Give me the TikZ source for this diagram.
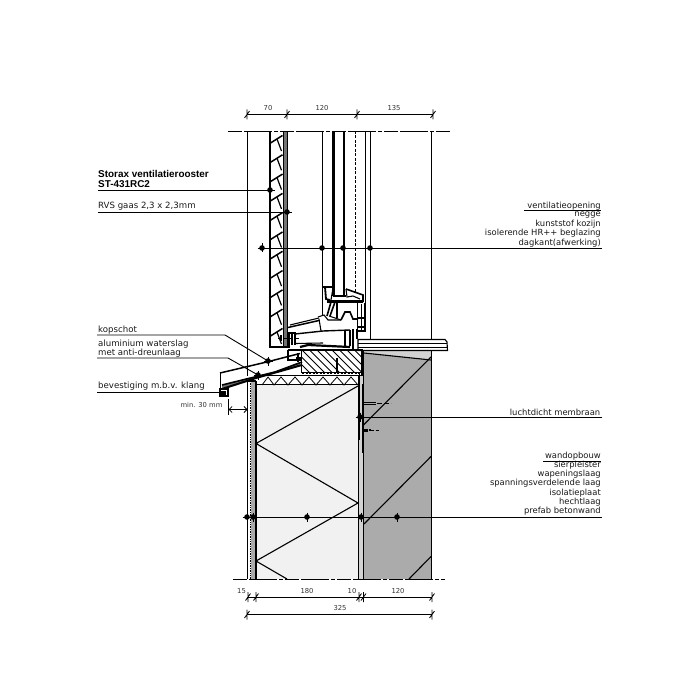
\documentclass[tikz,border=0pt]{standalone}
\usepackage{fontspec}
\setmainfont{DejaVu Sans}
\newfontfamily\boldfam{Liberation Sans}[BoldFont={Liberation Sans Bold}]
\usetikzlibrary{arrows.meta}
\definecolor{concrete}{HTML}{ABABAB}
\definecolor{insul}{HTML}{F1F1F1}
\definecolor{lightband}{HTML}{D2D2D2}
\tikzset{
  thinl/.style={line width=0.7pt,black},
  medl/.style={line width=1.1pt,black},
  thickl/.style={line width=1.6pt,black},
  cutl/.style={line width=0.9pt,black,dash pattern=on 14pt off 2pt on 28pt off 2pt on 4pt off 2pt},
  lead/.style={line width=0.9pt,black},
  lblr/.style={inner sep=0pt,font=\fontsize{8.4}{9.2}\selectfont,text=black!90,anchor=east},
  lbll/.style={inner sep=0pt,font=\fontsize{8.6}{9.2}\selectfont,text=black!90,anchor=west},
  dimt/.style={inner sep=0pt,font=\fontsize{6.8}{7}\selectfont,text=black!80},
  dimline/.style={line width=0.8pt,black}
}
\newcommand{\dotmark}[1]{\fill[black] #1 circle (2.8pt);\draw[line width=0.5pt] #1 ++(-4.5,0) -- ++(9,0) #1 ++(0,-4.5) -- ++(0,9);}
\newcommand{\tickmark}[1]{\draw[dimline] #1 ++(0,-5) -- ++(0,10) #1 ++(-2.5,3.5) -- ++(5,-7);}
\begin{document}
\begin{tikzpicture}[x=1pt,y=-1pt]
\useasboundingbox (0,0) rectangle (700,700);
\fill[white] (0,0) rectangle (700,700);
% fills
\fill[insul] (256,384) rectangle (358,579);
\fill[lightband] (358,376) rectangle (363,579);
\fill[lightband] (363,351) rectangle (431,360);
\fill[concrete] (364,353) -- (431,360) -- (431,579) -- (364,579) -- cycle;
\fill[concrete] (251,381) rectangle (256,579);
% wall lines
\draw[thinl] (247.5,131) -- (247.5,376);
\draw[medl] (247.5,381) -- (247.5,579);
\draw[thinl,densely dotted] (250.5,381) -- (250.5,579);
\draw[medl] (248,381) -- (256,381);
\draw[thickl] (256,381) -- (256,579);
\draw[medl] (358.5,384) -- (358.5,579);
\draw[thickl] (363.5,351) -- (363.5,579);
\draw[medl] (431.5,131) -- (431.5,340);
\draw[thickl] (431.5,351) -- (431.5,579);
\draw[medl] (364,353) -- (431,360);
% insulation and concrete diagonals
\draw[medl] (358,386) -- (256,443.5) -- (358,503) -- (256,561) -- (287,579);
\draw[medl] (431,357) -- (363.5,425);
\draw[medl] (431,456.5) -- (364,524);
\draw[medl] (431,556.5) -- (409,579);
% zigzag strip
\draw[thickl] (256,375.5) -- (362,375.5);
\draw[medl] (256,384.5) -- (359,384.5);
\draw[line width=0.8pt] (262,385) -- (268,377) -- (274,385) -- (281,377) -- (288,385) -- (295,377) -- (302,385) -- (309,377) -- (316,385) -- (323,377) -- (330,385) -- (337,377) -- (344,385) -- (351,377) -- (358,385);
% timber
\filldraw[fill=white,draw=black,line width=1.1pt] (301.5,350) rectangle (361.5,372.5);
\begin{scope}
\clip (302,350.5) rectangle (361,372);
\foreach \hx in {272,279.5,...,362}{\draw[line width=0.8pt] (\hx,350) -- (\hx+23,373);}
\end{scope}
\draw[line width=2pt,black] (337,358) -- (337,372);
\draw[line width=1.6pt,dash pattern=on 2pt off 1.5pt] (302,373.3) -- (361,373.3);
% right side joint
\draw[thickl] (359.5,373) -- (359.5,384);
\draw[medl] (362,349) -- (362,376);
% membrane
\draw[line width=1.8pt] (359,376) -- (359,440);
\draw[line width=1.2pt] (362.5,384) -- (362.5,453);
\draw[line width=1pt] (363,402) -- (376,402) (363,404.5) -- (376,404.5);
\draw[dash pattern=on 5pt off 2pt,line width=0.9pt] (377,403.5) -- (391,403.5);
\draw[line width=3pt] (362,430) -- (368,430);
\draw[line width=1.5pt] (369,430) -- (371,430);
\draw[line width=0.7pt,dash pattern=on 3pt off 1.5pt] (371,430) -- (380,430);
% grille
\draw[line width=2pt] (270,131) -- (270,348);
\draw[line width=1.3pt] (283.3,131) -- (283.3,348) (287.2,131) -- (287.2,348);
\fill[black!55] (284,131) rectangle (286.5,348);
\foreach \yy in {143,162.3,181.6,200.9,220.2,239.5,258.8,278.1,297.4,316.7,336}{
  \draw[line width=1.5pt] (270.5,\yy) -- (282.5,\yy-7.5);
  \draw[line width=1.2pt] (277,\yy-4) -- (281.5,\yy+8);
}
\draw[medl] (270,347) -- (287,347);
% glass
\draw[thinl] (322.5,131) -- (322.5,303);
\draw[line width=2.7pt] (333.5,131) -- (333.5,296);
\draw[line width=2.7pt] (344,131) -- (344,296);
\draw[line width=0.8pt,dash pattern=on 3pt off 1.5pt] (355.5,131) -- (355.5,292);
\draw[thinl] (365.5,131) -- (365.5,331);
\draw[medl] (370.5,131) -- (370.5,340);
% window frame top
\draw[line width=1.8pt] (323,287) -- (333,287);
\draw[line width=1.8pt] (325,287) -- (326,299) -- (330,300);
\draw[medl] (333,288) -- (331,300);
\draw[line width=2.4pt] (333,296) -- (346,296);
\draw[thickl] (346,289) -- (363,295) -- (363,302);
\draw[medl] (346,289) -- (347,297) -- (353,296) -- (360,299);
\draw[line width=2.6pt] (327,301.5) -- (363,301.5);
\draw[medl] (322.5,302) -- (322.5,315);
\draw[thickl] (331,302) -- (327,316);
\draw[thickl] (335,302) -- (330,316) (337,303) -- (337,318);
\draw[medl] (329,316) -- (341,320);
\draw[medl] (318,317) -- (324,315) -- (328,320) -- (341,320);
\draw[thickl] (341,320) -- (345,312) -- (350,312) -- (353,319) -- (358,319);
% right box
\draw[medl] (357.5,303) -- (357.5,331) -- (365,331) -- (365,303);
\draw[thinl] (361,304) -- (361,330);
\draw[line width=2pt] (357,318) -- (365,318) (357,327) -- (365,327);
% sill profile
\draw[medl] (290,325) -- (319,318);
\draw[line width=1.5pt] (288,327.5) -- (319,320.5);
\draw[medl] (319,319) -- (321,331);
\draw[line width=1.4pt] (295,334) -- (323,331) -- (350,330);
\draw[medl] (295,343.5) -- (323,343);
\draw[medl] (350,330) -- (350,346) (345,330) -- (345,348) (353,329) -- (353,349) (357,329) -- (357,339);
\draw[medl] (288,333) -- (295,333) -- (295,345);
\draw[medl] (289,333) -- (289,348) (292,333) -- (292,345);
\draw[line width=0.7pt,dashed] (278,338) -- (302,338);
\draw[medl] (281,335) -- (281,341);
\draw[line width=2.2pt] (300,347) -- (308,345) -- (350,347);
\draw[medl] (288,350) -- (288,360) -- (301,360);
\draw[medl] (288,350) -- (301,350);
\draw[line width=3pt] (296,358) -- (302,358);
\draw[line width=2.6pt] (298,353) -- (298,362);
% stone sill
\draw[medl] (358,339.5) -- (445,339.5) -- (447,342) -- (447.5,350.5) -- (358,350.5) -- cycle;
\draw[thinl] (358,343) -- (447,343);
\draw[thinl] (358,347) -- (447,347);
% waterslag
\draw[line width=1.5pt] (220,373) -- (268,361.7) -- (290,356) -- (300,353.5);
\draw[thinl] (220,373) -- (220,392);
\fill[black!55] (222,385) -- (275,372) -- (300,362) -- (300,366) -- (256,378) -- (222,389) -- cycle;
\draw[thickl] (222,385) -- (275,372) -- (302,362);
\draw[line width=2pt] (222,389) -- (256,378) -- (302,365);
\draw[medl] (220,389) -- (228,389) -- (228,396) -- (220,396) -- cycle;
\fill[black] (221,391) rectangle (226,395);
% min 30 mm dim
\draw[thinl] (228.5,399) -- (228.5,415);
\draw[dimline,{Straight Barb[length=3pt]}-{Straight Barb[length=3pt]}] (228.5,409.5) -- (247.5,409.5);
\node[dimt,anchor=center] (mindim) at (201.5,405) {min. 30 mm};
% cut lines
\draw[cutl] (228,131) -- (450,131);
\draw[cutl] (233,579) -- (445,579);
% top dims
\draw[dimline] (247,114.5) -- (433,114.5);
\tickmark{(247,114.5)} \tickmark{(287,114.5)} \tickmark{(357,114.5)} \tickmark{(433,114.5)}
\node[dimt] (d70) at (268,108.5) {70};
\node[dimt] (d120t) at (322,108.5) {120};
\node[dimt] (d135) at (394,108.5) {135};
% bottom dims
\draw[dimline] (247,597) -- (432,597);
\tickmark{(248,597)} \tickmark{(256,597)} \tickmark{(359,597)} \tickmark{(363.5,597)} \tickmark{(432,597)}
\node[dimt] (d15) at (241.5,591) {15};
\node[dimt] (d180) at (307,591) {180};
\node[dimt] (d10) at (352,591) {10};
\node[dimt] (d120b) at (398,591) {120};
\draw[dimline] (247,614.5) -- (432,614.5);
\tickmark{(247,614.5)} \tickmark{(432,614.5)}
\node[dimt] (d325) at (340,608) {325};
% labels left
\node[inner sep=0pt,anchor=west,font=\boldfam\bfseries\fontsize{9.9}{10}\selectfont] (st1) at (98,174) {Storax ventilatierooster};
\node[inner sep=0pt,anchor=west,font=\boldfam\bfseries\fontsize{9.9}{10}\selectfont] (st2) at (98,184) {ST-431RC2};
\node[lbll] (rvs) at (98,206.5) {RVS gaas 2,3 x 2,3mm};
\node[lbll] (kop) at (98,330) {kopschot};
\node[lbll] (alu) at (98,344) {aluminium waterslag};
\node[lbll] (met) at (98,353) {met anti-dreunlaag};
\node[lbll] (bev) at (98,386.5) {bevestiging m.b.v. klang};
% leaders left
\coordinate (k1) at (268,361); \coordinate (a1) at (258,375); \coordinate (b1) at (225,392);
\coordinate (s1) at (270,190); \coordinate (r1) at (287,212);
\draw[lead] (98,190) -- (s1);
\draw[lead] (98,212) -- (r1);
\draw[lead] (97,335) -- (225,335) -- (k1);
\draw[lead] (97,358) -- (228,358) -- (a1);
\draw[lead] (97,392) -- (b1);
\dotmark{(s1)} \dotmark{(r1)} \dotmark{(k1)} \dotmark{(a1)}
% labels right
\node[lblr] (v1) at (601,205.7) {ventilatieopening};
\node[lblr] (v2) at (601,215) {negge};
\node[lblr] (v3) at (601,224) {kunststof kozijn};
\node[lblr] (v4) at (601,233.3) {isolerende HR++ beglazing};
\node[lblr] (v5) at (601,242.7) {dagkant(afwerking)};
\draw[thinl] (524,210.3) -- (601,210.3);
\node[lblr] (lu) at (600.5,412) {luchtdicht membraan};
\node[lblr] (w0) at (601,455.7) {wandopbouw};
\node[lblr] (w1) at (601,465) {sierpleister};
\node[lblr] (w2) at (601,474) {wapeningslaag};
\node[lblr] (w3) at (601,483.3) {spanningsverdelende laag};
\node[lblr] (w4) at (601,492.7) {isolatieplaat};
\node[lblr] (w5) at (601,501.7) {hechtlaag};
\node[lblr] (w6) at (601,511) {prefab betonwand};
\draw[thinl] (543,461) -- (601,461);
% leaders right
\draw[lead] (601.5,248) -- (262,248);
\dotmark{(262,248)} \dotmark{(322,248)} \dotmark{(343,248)} \dotmark{(370,248)}
\draw[lead] (601.5,417) -- (360,417);
\dotmark{(360,417)}
\draw[lead] (601.5,517) -- (247,517);
\dotmark{(247,517)} \dotmark{(253,517)} \dotmark{(307,517)} \dotmark{(361,517)} \dotmark{(397,517)}
\end{tikzpicture}
\end{document}
